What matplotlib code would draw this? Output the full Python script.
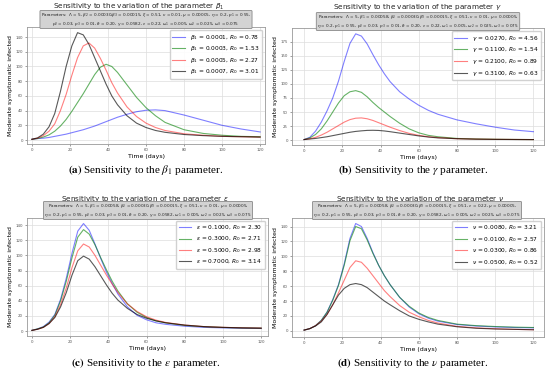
import matplotlib.pyplot as plt

# time grid (days)
t_days = [0, 3, 6, 9, 12, 15, 18, 21, 24, 27, 30, 33, 36, 39, 42, 45, 50, 55, 60, 65, 70, 80, 90, 100, 110, 120]

# (a) beta_1
beta1_labels = [r"$\beta_1$ = 0.0001, $R_0$ = 0.78", r"$\beta_1$ = 0.0003, $R_0$ = 1.53",
                r"$\beta_1$ = 0.0005, $R_0$ = 2.27", r"$\beta_1$ = 0.0007, $R_0$ = 3.01"]
beta1_blue = [1, 2, 2.5, 3.5, 5, 6.5, 8, 10, 12, 14, 16.5, 19, 22, 25, 28, 31, 35, 38.5, 40.5, 41, 40, 34, 27, 20, 15, 11]
beta1_green = [1, 2, 4, 7, 12, 19, 28, 39, 51, 63, 76, 89, 99, 103, 100, 92, 75, 58, 44, 33, 24, 14, 9, 6.5, 5, 4.5]
beta1_red = [1, 2.5, 6, 12, 22, 40, 62, 88, 112, 128, 132, 125, 111, 95, 78, 64, 45, 32, 23, 17, 13, 8.5, 6.5, 5, 4.5, 4]
beta1_black = [1, 3, 8, 18, 36, 66, 100, 128, 146, 143, 130, 112, 94, 76, 60, 48, 33, 23, 17, 13, 10.5, 7.5, 6, 5, 4.5, 4]

# (b) gamma
gamma_labels = [r"$\gamma$ = 0.0270, $R_0$ = 4.56", r"$\gamma$ = 0.1100, $R_0$ = 1.54",
                r"$\gamma$ = 0.2100, $R_0$ = 0.89", r"$\gamma$ = 0.3100, $R_0$ = 0.63"]
gamma_blue = [1, 5, 16, 32, 52, 75, 105, 140, 172, 189, 185, 171, 152, 134, 118, 104, 86, 73, 62, 53, 46, 36, 29, 23, 18, 15]
gamma_green = [1, 4, 10, 20, 34, 50, 66, 79, 86, 88, 85, 77, 67, 58, 50, 42, 30, 20, 13, 8.5, 6, 3, 2, 1.5, 1.2, 1]
gamma_red = [1, 2.5, 5, 9, 14, 20, 26, 32, 36.5, 39, 39.5, 38, 35, 31, 27, 23, 17, 12, 8.5, 6, 4.5, 2.5, 1.8, 1.4, 1.2, 1]
gamma_black = [1, 2, 3, 4.5, 6, 8, 10, 12, 14, 15.5, 16.5, 17.3, 17.5, 17.2, 16.3, 15, 12.5, 10, 7.5, 5.5, 4, 2.5, 1.7, 1.3, 1.1, 1]

# (c) epsilon
eps_labels = [r"$\varepsilon$ = 0.1000, $R_0$ = 2.30", r"$\varepsilon$ = 0.3000, $R_0$ = 2.71",
              r"$\varepsilon$ = 0.5000, $R_0$ = 2.98", r"$\varepsilon$ = 0.7000, $R_0$ = 3.14"]
eps_blue = [1, 3, 6, 12, 22, 42, 70, 103, 132, 142, 133, 115, 96, 78, 63, 49, 32, 21, 15, 11, 9, 6.5, 5, 4.3, 3.8, 3.5]
eps_green = [1, 3, 5.5, 11, 21, 40, 66, 97, 124, 134, 128, 114, 97, 81, 66, 53, 36, 25, 18, 13.5, 11, 7.5, 5.8, 4.8, 4.2, 3.8]
eps_red = [1, 2.5, 5, 10, 19, 35, 57, 84, 106, 115, 111, 100, 87, 74, 62, 51, 36, 26, 19, 14.5, 11.5, 8, 6, 5, 4.4, 4]
eps_black = [1, 2.5, 5, 10, 18, 32, 51, 74, 93, 99, 95, 85, 73, 61, 50, 41, 30, 22, 17, 13.5, 11, 8, 6, 5, 4.3, 4]

# (d) nu
nu_labels = [r"$\nu$ = 0.0080, $R_0$ = 3.21", r"$\nu$ = 0.0100, $R_0$ = 2.57",
             r"$\nu$ = 0.0300, $R_0$ = 0.86", r"$\nu$ = 0.0500, $R_0$ = 0.52"]
nu_blue = [1, 3, 7, 14, 25, 42, 62, 90, 124, 144, 140, 124, 105, 88, 74, 62, 45, 32, 23, 17, 13, 8.5, 6.5, 5.3, 4.5, 4]
nu_green = [1, 3, 7, 14, 25, 41, 61, 88, 121, 140, 137, 122, 104, 88, 74, 62, 45, 33, 24, 18, 14, 9, 7, 5.8, 5, 4.5]
nu_red = [1, 3, 7, 13, 22, 35, 51, 68, 85, 94, 92, 84, 74, 64, 54, 46, 34, 25, 19, 14, 10.5, 6, 4, 2.8, 2, 1.5]
nu_black = [1, 3, 6.5, 12, 22, 35, 48, 57, 62, 63.5, 62, 58, 52, 46, 40, 35, 27, 20, 15.5, 12, 9, 5.5, 3.5, 2.5, 2, 1.5]

titles = [r"Sensitivity to the variation of the parameter $\beta_1$",
          r"Sensitivity to the variation of the parameter $\gamma$",
          r"Sensitivity to the variation of the parameter $\varepsilon$",
          r"Sensitivity to the variation of the parameter $\nu$"]

params = [
    r"Parameters:  $\Lambda$ = 5, $\beta_2$ = 0.00030,$\beta_3$ = 0.00015, $\xi$ = 0.51, $\nu$ = 0.01, $\mu$ = 0.00005, $\eta$ = 0.2, $p_1$ = 0.55," + "\n"
    r"$p_2$ = 0.03, $p_3$ = 0.01, $\delta$ = 0.20, $\gamma$ = 0.0582, $\varepsilon$ = 0.22, $\omega_1$ = 0.005, $\omega_2$ = 0.025, $\omega_3$ = 0.075",
    r"Parameters:  $\Lambda$ = 5, $\beta_1$ = 0.00058, $\beta_2$ = 0.00030,$\beta_3$ = 0.00015, $\xi$ = 0.51, $\nu$ = 0.01, $\mu$ = 0.00005," + "\n"
    r"$\eta$ = 0.2, $p_1$ = 0.55, $p_2$ = 0.03, $p_3$ = 0.01, $\delta$ = 0.20, $\varepsilon$ = 0.22, $\omega_1$ = 0.005, $\omega_2$ = 0.025, $\omega_3$ = 0.075",
    r"Parameters:  $\Lambda$ = 5, $\beta_1$ = 0.00058, $\beta_2$ = 0.00030,$\beta_3$ = 0.00015, $\xi$ = 0.51, $\nu$ = 0.01, $\mu$ = 0.00005," + "\n"
    r"$\eta$ = 0.2, $p_1$ = 0.55, $p_2$ = 0.03, $p_3$ = 0.01, $\delta$ = 0.20, $\gamma$ = 0.0582, $\omega_1$ = 0.005, $\omega_2$ = 0.025, $\omega_3$ = 0.075",
    r"Parameters:  $\Lambda$ = 5, $\beta_1$ = 0.00058, $\beta_2$ = 0.00030,$\beta_3$ = 0.00015, $\xi$ = 0.51, $\varepsilon$ = 0.22, $\mu$ = 0.00005," + "\n"
    r"$\eta$ = 0.2, $p_1$ = 0.55, $p_2$ = 0.03, $p_3$ = 0.01, $\delta$ = 0.20, $\gamma$ = 0.0582, $\omega_1$ = 0.005, $\omega_2$ = 0.025, $\omega_3$ = 0.075",
]

captions = [r"$\mathbf{(a)}$ Sensitivity to the $\beta_1$ parameter.",
            r"$\mathbf{(b)}$ Sensitivity to the $\gamma$ parameter.",
            r"$\mathbf{(c)}$ Sensitivity to the $\varepsilon$ parameter.",
            r"$\mathbf{(d)}$ Sensitivity to the $\nu$ parameter."]

series = [
    (beta1_labels, [beta1_blue, beta1_green, beta1_red, beta1_black]),
    (gamma_labels, [gamma_blue, gamma_green, gamma_red, gamma_black]),
    (eps_labels, [eps_blue, eps_green, eps_red, eps_black]),
    (nu_labels, [nu_blue, nu_green, nu_red, nu_black]),
]

colors = ["blue", "green", "red", "black"]
alphas = [0.5, 0.6, 0.5, 0.65]

# axes rectangles [left, bottom, width, height] in figure fraction
rects = [[0.049, 0.617, 0.433, 0.311],
         [0.531, 0.614, 0.458, 0.311],
         [0.049, 0.106, 0.438, 0.315],
         [0.531, 0.105, 0.458, 0.315]]
xlims = [(-2.6, 122.6), (-6.3, 125.5), (-2.6, 123.5), (-6.3, 125.5)]
ylims = [(-5.4, 153.6), (-8.9, 199), (-6.6, 149.7), (-7.6, 151.3)]
yticks = [range(0, 141, 20), range(0, 176, 25), range(0, 141, 20), range(0, 141, 20)]
title_pos = [(139, 6.5), (417, 6.5), (145, 198.5), (420, 198.5)]
box_pos = [(146, 19.5), (418, 21.5), (148, 210.5), (417, 210.5)]
cap_pos = [(146, 170), (413, 170), (146, 363), (413, 363)]

W, H = 550, 376
fig = plt.figure(figsize=(5.5, 3.76), dpi=100)

for i in range(4):
    ax = fig.add_axes(rects[i])
    labels, ys = series[i]
    for y, c, a, lab in zip(ys, colors, alphas, labels):
        ax.plot(t_days, y, color=c, alpha=a, lw=0.8, label=lab)
    ax.set_xlim(*xlims[i])
    ax.set_ylim(*ylims[i])
    ax.set_xticks(range(0, 121, 20))
    ax.set_yticks(list(yticks[i]))
    ax.tick_params(labelsize=2.8, length=1.5, width=0.4, pad=1.5, colors="#555555")
    ax.grid(True, color="#dddddd", lw=0.5)
    for s in ax.spines.values():
        s.set_color("#999999")
        s.set_linewidth(0.6)
    ax.set_xlabel("Time (days)", fontsize=4.5, labelpad=1.5)
    ax.set_ylabel("Moderate symptomatic infected", fontsize=4.5, labelpad=2)
    ax.legend(loc="upper right", fontsize=4.2, frameon=True, framealpha=0.9,
              handlelength=2.2, borderpad=0.45, labelspacing=0.45, edgecolor="#cccccc")

    tx, ty = title_pos[i]
    fig.text(tx / W, 1 - ty / H, titles[i], fontsize=5.2, ha="center", va="center", color="#222222")
    bx, by = box_pos[i]
    fig.text(bx / W, 1 - by / H, params[i], fontsize=3.0, ha="center", va="center",
             linespacing=1.05, color="#222222",
             bbox=dict(boxstyle="round,pad=0.2", fc="#d3d3d3", ec="#888888", lw=0.6))
    cx, cy = cap_pos[i]
    fig.text(cx / W, 1 - cy / H, captions[i], fontsize=8, ha="center", va="center",
             family="Liberation Serif", math_fontfamily="stix")

fig.savefig("out.png", dpi=100)
